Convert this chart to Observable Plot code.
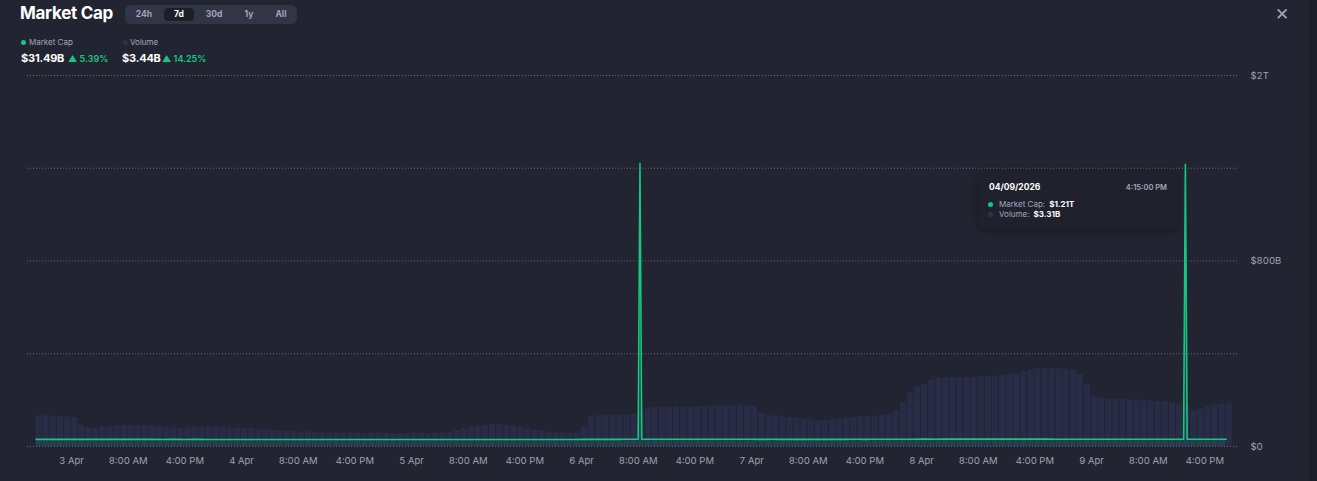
<!DOCTYPE html>
<html>
<head>
<meta charset="utf-8">
<script src="https://cdn.jsdelivr.net/npm/d3@7"></script>
<script src="https://cdn.jsdelivr.net/npm/@observablehq/plot@0.6"></script>
<style>
  html, body { margin: 0; padding: 0; background: #222531; overflow: hidden; }
  body { font-family: Inter, "Noto Sans", Roboto, sans-serif; color: #fff; }
  #wrap { position: relative; width: 1317px; height: 481px; }
  #wrap svg { position: absolute; left: 0; top: 0; }
  .abs { position: absolute; white-space: nowrap; }
  #title { left: 20px; top: 3px; font-size: 17px; font-weight: 700; letter-spacing: -0.3px; }
  #seg { left: 125px; top: 5px; width: 172px; height: 19px; background: #323546; border-radius: 6px; }
  .segbtn { position: absolute; top: 3px; height: 13px; line-height: 13px; font-size: 8.5px; font-weight: 700; color: #a1a7bb; text-align: center; border-radius: 4px; }
  .segbtn.on { background: #1c1e28; color: #fff; }
  .dot { position: absolute; width: 5px; height: 5px; border-radius: 50%; }
  .leg { font-size: 8px; color: #a1a7bb; }
  .val { font-size: 11px; font-weight: 700; color: #fff; letter-spacing: -0.2px; }
  .chg { font-size: 9px; font-weight: 600; color: #16c784; }
  #close { left: 1275px; top: 4px; font-size: 17px; color: #a1a7bb; font-weight: 300; }
  #tip { left: 978px; top: 173px; width: 200px; height: 56px; background: #1f212c; border-radius: 6px; box-shadow: 0 1px 8px rgba(0,0,0,0.35); }
  #tip .date { position: absolute; left: 11px; top: 9px; font-size: 8.5px; font-weight: 700; color: #fff; }
  #tip .time { position: absolute; right: 11px; top: 10px; font-size: 7.5px; font-weight: 600; color: #a1a7bb; }
  #tip .row { position: absolute; left: 21px; font-size: 8px; color: #a1a7bb; }
  #tip .row b { color: #fff; margin-left: 4px; }
  #sb { left: 1309px; top: 0; width: 8px; height: 481px; background: #1d1f29; }
</style>
</head>
<body>
<div id="wrap">
  <div id="sb" class="abs"></div>
  <div id="vol"></div>
  <div id="mc"></div>

  <div id="title" class="abs">Market Cap</div>
  <div id="seg" class="abs"></div>

  <div class="dot" style="left:20.5px;top:39.5px;background:#16c784"></div>
  <div class="abs leg" style="left:29px;top:37px">Market Cap</div>
  <div class="dot" style="left:122.5px;top:39.5px;background:#2c3154"></div>
  <div class="abs leg" style="left:130px;top:37px">Volume</div>

  <div class="abs val" style="left:21px;top:51px">$31.49B</div>
  <div class="abs chg" style="left:68px;top:53px">▲ 5.39%</div>
  <div class="abs val" style="left:122px;top:51px">$3.44B</div>
  <div class="abs chg" style="left:162px;top:53px">▲ 14.25%</div>

  <div id="close" class="abs">✕</div>

  <div id="tip" class="abs">
    <div class="date">04/09/2026</div>
    <div class="time">4:15:00 PM</div>
    <div class="dot" style="left:10px;top:29px;background:#16c784"></div>
    <div class="row" style="top:26px">Market Cap:<b>$1.21T</b></div>
    <div class="dot" style="left:10px;top:39px;background:#2c3154"></div>
    <div class="row" style="top:36px">Volume:<b>$3.31B</b></div>
  </div>
</div>

<script>
// ---------- DATA ----------
const rangeButtons = ["24h", "7d", "30d", "1y", "All"];
const activeRange = "7d";

// hourly samples starting 2 Apr 2026 19:00 UTC
const seriesStart = "2026-04-02T19:00:00Z";
const domainEnd = "2026-04-09T20:00:00Z";

// hourly trading volume, billions USD
const volumeB = [
  2.45, 2.5, 2.45, 2.4, 2.4, 2.35,
  1.7, 1.5, 1.45,
  1.55, 1.6, 1.65, 1.7, 1.7, 1.65, 1.7, 1.65, 1.6, 1.55,
  1.5, 1.45, 1.5, 1.55, 1.55, 1.6, 1.6, 1.55, 1.5, 1.5, 1.45, 1.45, 1.4, 1.35, 1.3,
  1.25, 1.2, 1.2, 1.15, 1.2, 1.15, 1.1, 1.1,
  1.1, 1.05, 1.1, 1.05, 1.0, 1.05, 1.1, 1.05, 1.0, 1.0, 1.05, 1.1, 1.05, 1.0, 1.05, 1.1, 1.15,
  1.3, 1.45, 1.55, 1.65, 1.7, 1.75, 1.75, 1.7, 1.65, 1.55, 1.45, 1.35, 1.25,
  1.15, 1.1, 1.1, 1.05, 1.1, 1.6,
  2.4, 2.5, 2.5, 2.55, 2.5, 2.55, 2.6,
  2.9, 3.1, 3.15, 3.15, 3.2, 3.2, 3.2, 3.2, 3.2, 3.25, 3.25, 3.3, 3.3, 3.3, 3.35, 3.3, 3.25,
  2.7, 2.5, 2.45, 2.4, 2.35, 2.3,
  2.2, 2.15, 2.1, 2.1, 2.15, 2.2,
  2.3, 2.35, 2.4, 2.4, 2.45, 2.5, 2.6,
  2.9, 3.55, 4.35, 4.85,
  5.0, 5.35, 5.5, 5.55, 5.55, 5.6, 5.6, 5.6, 5.65, 5.65, 5.7, 5.75, 5.8, 5.9, 6.0, 6.2, 6.3, 6.3, 6.3, 6.3, 6.25, 6.15, 5.8, 5.0, 4.0,
  3.9, 3.85, 3.8, 3.8, 3.75, 3.75, 3.7, 3.7, 3.65, 3.6, 3.5,
  3.35, 3.3, 2.9, 3.0, 3.3, 3.4, 3.45, 3.45
];

// hourly market cap, billions USD
const marketCapB = [
  30.9, 30.9, 30.8, 30.8, 30.9, 30.8, 30.7, 30.7, 30.8, 30.7,
  30.6, 30.7, 30.7, 30.6, 30.6, 30.7, 30.7, 30.6, 30.5, 30.6,
  30.6, 30.5, 30.6, 30.6, 30.5, 30.5, 30.4, 30.5, 30.5, 30.4,
  30.4, 30.5, 30.5, 30.4, 30.4, 30.3, 30.4, 30.4, 30.3, 30.3,
  30.4, 30.4, 30.3, 30.3, 30.2, 30.3, 30.3, 30.2, 30.2, 30.3,
  30.3, 30.2, 30.2, 30.3, 30.3, 30.4, 30.4, 30.3, 30.3, 30.4,
  30.5, 30.5, 30.4, 30.4, 30.5, 30.5, 30.4, 30.4, 30.3, 30.3,
  30.3, 30.4, 30.4, 30.3, 30.3, 30.4, 30.5, 30.6, 30.7, 30.8,
  30.8, 30.9, 30.9, 31.0, 31.0, 31.1, 31.1, 31.0, 31.1, 31.2,
  31.2, 31.1, 31.1, 31.2, 31.2, 31.3, 31.2, 31.2, 31.1, 31.1,
  31.0, 31.0, 30.9, 30.9, 31.0, 30.9, 30.9, 30.8, 30.8, 30.9,
  30.9, 30.8, 30.8, 30.9, 30.9, 31.0, 31.0, 30.9, 31.0, 31.1,
  31.2, 31.3, 31.4, 31.5, 31.5, 31.6, 31.6, 31.5, 31.6, 31.6,
  31.7, 31.6, 31.6, 31.7, 31.7, 31.6, 31.6, 31.7, 31.7, 31.8,
  31.7, 31.7, 31.6, 31.6, 31.5, 31.5, 31.4, 31.4, 31.5, 31.5,
  31.4, 31.4, 31.5, 31.5, 31.4, 31.4, 31.5, 31.5, 31.4, 31.4,
  31.5, 31.5, 31.4, 31.5, 31.5, 31.4, 31.5, 31.5, 31.49
];

// extra intraday samples around the two market-cap spikes
const spikeTimes = ["2026-04-06T08:15:00Z", "2026-04-06T08:30:00Z", "2026-04-09T13:15:00Z", "2026-04-09T13:30:00Z"];
const spikeCapB = [1430, 31.1, 1425, 31.4];

// y axis ticks (market cap, USD) and their labels
const yTickValues = [0, 400e9, 800e9, 1400e9, 2000e9];
const yTickLabels = ["$0", "", "$800B", "", "$2T"];

// ---------- BUILD ----------
const t0 = new Date(seriesStart);
const hourly = volumeB.map((v, i) => ({
  t: d3.utcHour.offset(t0, i),
  vol: v,
  cap: marketCapB[i] * 1e9
}));
const capData = hourly.map(d => ({ t: d.t, cap: d.cap }))
  .concat(spikeTimes.map((s, i) => ({ t: new Date(s), cap: spikeCapB[i] * 1e9 })))
  .sort((a, b) => a.t - b.t);

const W = 1317, H = 481;
const xScale = {
  type: "utc",
  domain: [t0, new Date(domainEnd)],
  insetLeft: 8.6,
  insetRight: 5.3,
  label: null
};
const common = { width: W, height: H, marginLeft: 27, marginRight: 79, marginTop: 75, marginBottom: 35 };

// segmented control
const seg = document.getElementById("seg");
const segCenters = [19, 54, 89, 124, 156];
const segWidths = [26, 30, 28, 22, 26];
rangeButtons.forEach((b, i) => {
  const el = document.createElement("div");
  el.className = "segbtn" + (b === activeRange ? " on" : "");
  el.textContent = b;
  el.style.left = (segCenters[i] - segWidths[i] / 2) + "px";
  el.style.width = segWidths[i] + "px";
  seg.appendChild(el);
});

// volume layer (own hidden scale)
const volPlot = Plot.plot({
  ...common,
  style: { background: "transparent" },
  x: { ...xScale, axis: null },
  y: { domain: [0, 30], axis: null, label: null },
  marks: [
    Plot.rectY(hourly, { x: "t", y: "vol", interval: d3.utcHour, fill: "#282c46", insetRight: 1 })
  ]
});
document.getElementById("vol").appendChild(volPlot);

// market cap layer with axes (piecewise: $0 | $800B | $2T)
const labelOf = new Map(yTickValues.map((v, i) => [v, yTickLabels[i]]));
const mcPlot = Plot.plot({
  ...common,
  style: { background: "transparent", fontFamily: "Inter, 'Noto Sans', sans-serif", fontSize: "9.5px", color: "#9ea3b0" },
  x: { ...xScale },
  y: { type: "linear", domain: [0, 800e9, 2000e9], label: null },
  marks: [
    Plot.gridY(yTickValues, { stroke: "#7a7f8e", strokeOpacity: 0.75, strokeDasharray: "1,2", strokeWidth: 1 }),
    Plot.axisY({
      anchor: "right", ticks: yTickValues, tickSize: 0, tickPadding: 12, label: null,
      tickFormat: d => labelOf.get(d), fill: "#9ea3b0", fontSize: 9.5
    }),
    Plot.axisX({
      ticks: d3.utcHour.every(8), tickSize: 0, tickPadding: 11, label: null,
      tickFormat: d => d.getUTCHours() === 0 ? d3.utcFormat("%-d %b")(d) : d3.utcFormat("%-I:%M %p")(d),
      fill: "#9ea3b0", fontSize: 9.5
    }),
    Plot.areaY(capData, { x: "t", y: "cap", fill: "#16c784", fillOpacity: 0.12, curve: "linear" }),
    Plot.line(capData, { x: "t", y: "cap", stroke: "#16c784", strokeWidth: 1.6, curve: "linear" })
  ]
});
document.getElementById("mc").appendChild(mcPlot);
</script>
</body>
</html>
